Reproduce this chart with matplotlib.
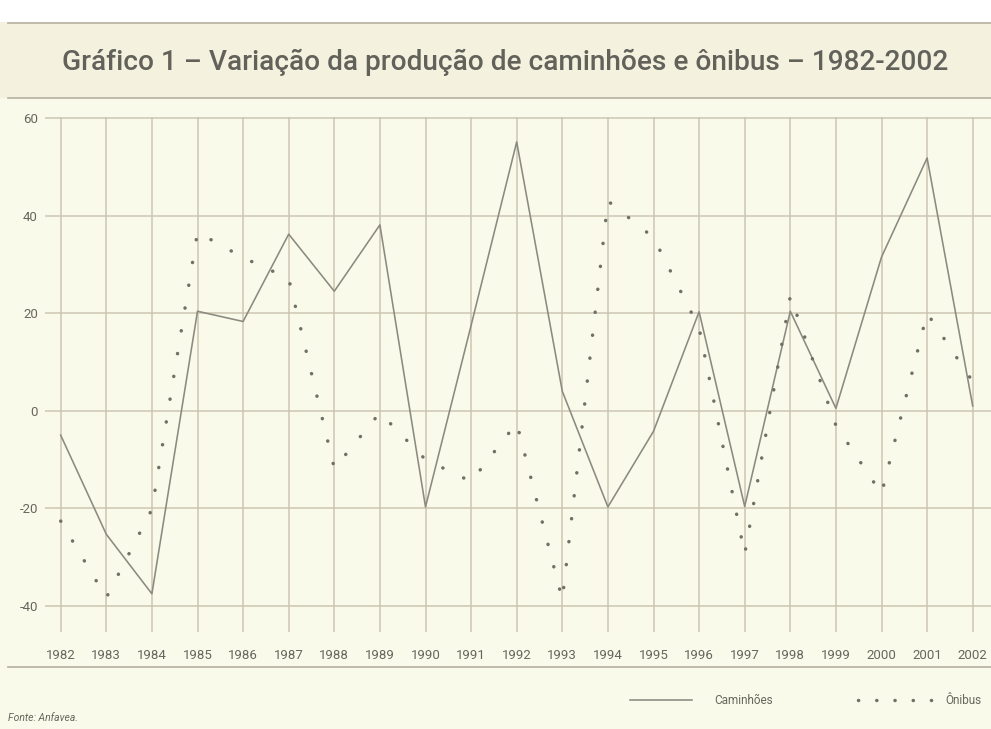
import matplotlib
matplotlib.use("Agg")
import matplotlib.pyplot as plt
from matplotlib.lines import Line2D
from matplotlib.patches import Rectangle

# ---------------- data ----------------
years = list(range(1982, 2003))
year_labels = [str(y) for y in years]
caminhoes = [-5.0, -25.3, -37.5, 20.4, 18.3, 36.2, 24.5, 38.1, -19.7, 17.5, 55.1,
             4.0, -19.7, -4.2, 20.3, -19.6, 20.4, 0.5, 31.5, 51.8, 1.0]
onibus = [-22.6, -38.3, -20.2, 36.6, 31.4, 27.1, -11.8, -0.4, -10.0, -14.5, -2.5,
          -38.7, 43.0, 35.5, 17.0, -29.4, 23.5, -3.0, -17.0, 20.0, 6.0]
y_ticks = [-40, -20, 0, 20, 40, 60]
y_tick_labels = ["-40", "-20", "0", "20", "40", "60"]
title = "Gráfico 1 – Variação da produção de caminhões e ônibus – 1982-2002"
legend_labels = ["Caminhões", "Ônibus"]
source = "Fonte: Anfavea."

# ---------------- style ----------------
W, H = 991, 729
bg = "#fafaea"
band = "#f4f1df"
grid_c = "#cdc5b3"
rule_c = "#b5af9f"
text_c = "#66665e"
title_c = "#62625b"
line_c = "#8a8a80"
dot_c = "#707066"
plt.rcParams["font.family"] = ["Roboto", "DejaVu Sans"]

fig = plt.figure(figsize=(W / 100, H / 100), dpi=100, facecolor=bg)


def fx(px):
    return px / W


def fy(py):
    return 1 - py / H


# white strip on top and title band
fig.add_artist(Rectangle((0, fy(22)), 1, 22 / H, transform=fig.transFigure,
                         facecolor="white", edgecolor="none", zorder=0))
fig.add_artist(Rectangle((0, fy(98)), 1, 76 / H, transform=fig.transFigure,
                         facecolor=band, edgecolor="none", zorder=0))
for py in (23, 98):
    fig.add_artist(Line2D([fx(8), 1], [fy(py), fy(py)], transform=fig.transFigure,
                          color=rule_c, lw=1.2))
fig.text(fx(505), fy(62), title, ha="center", va="center", fontsize=20.2,
         color=title_c, fontweight="medium")

# ---------------- axes ----------------
ax = fig.add_axes([fx(45), fy(632), 946 / W, 515 / H])
ax.set_facecolor("none")
px_per_unit = (606 - 118) / 100.0
ax.set_ylim(-40 - 26 / px_per_unit, 60 + 1 / px_per_unit)
px_per_year = (972.7 - 60.7) / 20.0
ax.set_xlim(1982 - 15.7 / px_per_year, 2002 + 18.3 / px_per_year)

for s in ax.spines.values():
    s.set_visible(False)

ax.set_yticks(y_ticks)
ax.set_yticklabels(y_tick_labels)
ax.set_xticks(years)
ax.set_xticklabels(year_labels)
ax.tick_params(axis="both", length=0, labelsize=9.5, colors=text_c)
ax.tick_params(axis="y", pad=5)
ax.tick_params(axis="x", pad=12)
ax.grid(True, color=grid_c, lw=1.1, zorder=0)
ax.set_axisbelow(True)

ax.plot(years, caminhoes, color=line_c, lw=1.15, zorder=3)
ax.plot(years, onibus, color=dot_c, lw=2.5, linestyle=(0, (0.05, 6.6)),
        dash_capstyle="round", zorder=4)

# bottom rule
fig.add_artist(Line2D([fx(8), 1], [fy(667), fy(667)], transform=fig.transFigure,
                      color=rule_c, lw=1.2))

# legend
fig.add_artist(Line2D([fx(630), fx(692)], [fy(700), fy(700)], transform=fig.transFigure,
                      color=line_c, lw=1.15))
fig.text(fx(714), fy(700), legend_labels[0], ha="left", va="center", fontsize=8.5,
         color=text_c)
fig.add_artist(Line2D([fx(858), fx(932)], [fy(700), fy(700)], transform=fig.transFigure,
                      color=dot_c, lw=2.5, linestyle=(0, (0.05, 5.2)),
                      dash_capstyle="round"))
fig.text(fx(945), fy(700), legend_labels[1], ha="left", va="center", fontsize=8.5,
         color=text_c)

fig.text(fx(8), fy(718), source, ha="left", va="center", fontsize=7.5,
         style="italic", color=text_c)

fig.savefig("out.png", dpi=100, facecolor=bg)
